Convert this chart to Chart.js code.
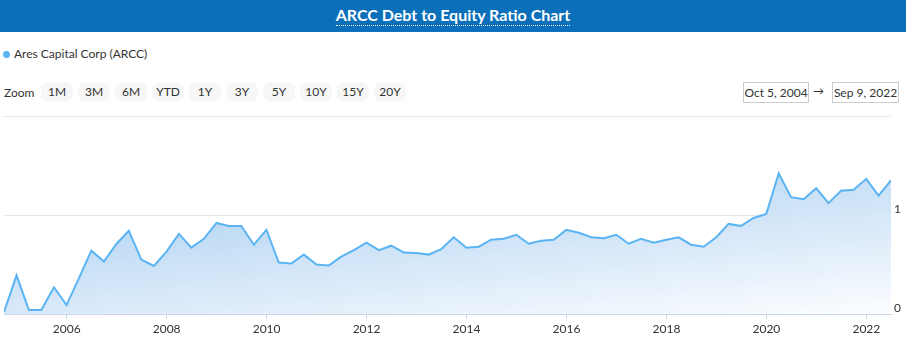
<!DOCTYPE html>
<html>
<head>
<meta charset="utf-8">
<script src="https://cdn.jsdelivr.net/npm/chart.js@4.4.1/dist/chart.umd.min.js"></script>
<style>
  html, body { margin: 0; padding: 0; background: #fff; width: 906px; height: 349px; overflow: hidden; font-family: Lato, "Open Sans", sans-serif; color: #333; }
  #header { position: absolute; left: 0; top: 0; width: 906px; height: 32px; background: #0b6fba; }
  #title { position: absolute; left: 0; width: 906px; top: 5px; text-align: center; color: #fff; font-weight: bold; font-size: 16px; }
  #title span { border-bottom: 1px dotted #fff; padding-bottom: 1px; }
  #legend { position: absolute; left: 3px; top: 46px; font-size: 12px; color: #333; }
  #legend .dot { display: inline-block; width: 7px; height: 7px; border-radius: 50%; background: #5ab4f3; margin-right: 4px; vertical-align: 0px; }
  .zoomlbl { position: absolute; left: 4px; top: 85px; font-size: 12px; color: #333; }
  .btn { position: absolute; top: 82px; width: 32px; height: 20px; line-height: 20px; background: #f7f7f7; border-radius: 8px; text-align: center; font-size: 12px; color: #333; }
  .datebox { position: absolute; top: 82px; height: 19px; border: 1px solid #ccc; font-size: 12px; line-height: 19px; color: #333; text-align: center; }
  #arrow { position: absolute; left: 813px; top: 84px; font-size: 11px; color: #333; }
  #wrap { position: absolute; left: 0; top: 110px; width: 906px; height: 239px; }
</style>
</head>
<body>
<div id="header"><div id="title"><span>ARCC Debt to Equity Ratio Chart</span></div></div>
<div id="legend"><span class="dot"></span>Ares Capital Corp (ARCC)</div>
<div class="zoomlbl">Zoom</div>
<div id="buttons"></div>
<div class="datebox" style="left:743px;width:64px;">Oct 5, 2004</div>
<div id="arrow">&#8594;</div>
<div class="datebox" style="left:832px;width:65px;">Sep 9, 2022</div>
<div id="wrap"><canvas id="c" width="906" height="239"></canvas></div>
<script>
// ---- data ----
const zoomButtons = ["1M", "3M", "6M", "YTD", "1Y", "3Y", "5Y", "10Y", "15Y", "20Y"];
const seriesName = "Ares Capital Corp (ARCC)";
const quarterDates = [
  "2004-09-30","2004-12-31",
  "2005-03-31","2005-06-30","2005-09-30","2005-12-31",
  "2006-03-31","2006-06-30","2006-09-30","2006-12-31",
  "2007-03-31","2007-06-30","2007-09-30","2007-12-31",
  "2008-03-31","2008-06-30","2008-09-30","2008-12-31",
  "2009-03-31","2009-06-30","2009-09-30","2009-12-31",
  "2010-03-31","2010-06-30","2010-09-30","2010-12-31",
  "2011-03-31","2011-06-30","2011-09-30","2011-12-31",
  "2012-03-31","2012-06-30","2012-09-30","2012-12-31",
  "2013-03-31","2013-06-30","2013-09-30","2013-12-31",
  "2014-03-31","2014-06-30","2014-09-30","2014-12-31",
  "2015-03-31","2015-06-30","2015-09-30","2015-12-31",
  "2016-03-31","2016-06-30","2016-09-30","2016-12-31",
  "2017-03-31","2017-06-30","2017-09-30","2017-12-31",
  "2018-03-31","2018-06-30","2018-09-30","2018-12-31",
  "2019-03-31","2019-06-30","2019-09-30","2019-12-31",
  "2020-03-31","2020-06-30","2020-09-30","2020-12-31",
  "2021-03-31","2021-06-30","2021-09-30","2021-12-31",
  "2022-03-31","2022-06-30"
];
const debtToEquity = [
  0.02, 0.39,
  0.04, 0.04, 0.27, 0.09,
  0.36, 0.64, 0.53, 0.71,
  0.84, 0.55, 0.485, 0.63,
  0.81, 0.67, 0.76, 0.92,
  0.89, 0.89, 0.70, 0.85,
  0.52, 0.51, 0.60, 0.50,
  0.49, 0.58, 0.645, 0.72,
  0.645, 0.69, 0.62, 0.615,
  0.60, 0.655, 0.775, 0.67,
  0.68, 0.75, 0.76, 0.80,
  0.71, 0.74, 0.75, 0.85,
  0.82, 0.775, 0.765, 0.80,
  0.71, 0.76, 0.72, 0.75,
  0.775, 0.70, 0.68, 0.775,
  0.91, 0.89, 0.97, 1.01,
  1.42, 1.18, 1.16, 1.27,
  1.12, 1.245, 1.255, 1.365,
  1.195, 1.35
];
const xTickYears = [2006, 2008, 2010, 2012, 2014, 2016, 2018, 2020, 2022];
const yTickLabels = ["0", "1"];

// ---- build ----
const btnWrap = document.getElementById("buttons");
zoomButtons.forEach((b, i) => {
  const d = document.createElement("div");
  d.className = "btn";
  d.style.left = (41 + 37 * i) + "px";
  d.textContent = b;
  btnWrap.appendChild(d);
});

function toYear(s) {
  const d = new Date(s + "T00:00:00Z");
  const y = d.getUTCFullYear();
  const start = Date.UTC(y, 0, 1), end = Date.UTC(y + 1, 0, 1);
  return y + (d.getTime() - start) / (end - start);
}
const points = quarterDates.map((s, i) => ({ x: toYear(s), y: debtToEquity[i] }));

const fillGradient = (ctx) => {
  const ch = ctx.chart;
  const a = ch.chartArea;
  if (!a) return "rgba(124,181,236,0.4)";
  const w = a.right - a.left, h = a.bottom - a.top;
  const gx = 1, gy = 9.67;
  const s = (w * gx + h * gy) / (gx * gx + gy * gy);
  const g = ch.ctx.createLinearGradient(a.left, a.top, a.left + s * gx, a.top + s * gy);
  g.addColorStop(0, "rgb(140,190,236)");
  g.addColorStop(1, "rgb(252,253,255)");
  return g;
};

new Chart(document.getElementById("c"), {
  type: "line",
  data: {
    datasets: [{
      label: seriesName,
      data: points,
      borderColor: "#5ab4f3",
      borderWidth: 2,
      pointRadius: 0,
      tension: 0,
      fill: "origin",
      backgroundColor: fillGradient
    }]
  },
  options: {
    responsive: false,
    animation: false,
    events: [],
    layout: { padding: { left: 4, right: 0, top: 6, bottom: 0 } },
    plugins: { legend: { display: false }, tooltip: { enabled: false } },
    scales: {
      x: {
        type: "linear",
        min: points[0].x,
        max: points[points.length - 1].x,
        afterBuildTicks: (s) => { s.ticks = xTickYears.map(v => ({ value: v })); },
        afterFit: (s) => { s.height = 35; s.paddingLeft = 0; s.paddingRight = 0; },
        grid: { drawOnChartArea: false, drawTicks: true, tickLength: 5, color: "#ccd6eb" },
        border: { color: "#ccd6eb", width: 1 },
        ticks: {
          padding: 3,
          color: "#333",
          font: { family: "Lato", size: 12 },
          maxRotation: 0,
          autoSkip: false,
          callback: (v) => String(v)
        }
      },
      y: {
        position: "right",
        min: 0,
        max: 2,
        afterBuildTicks: (s) => { s.ticks = [0, 1, 2].map(v => ({ value: v })); },
        afterFit: (s) => { s.width = 15; s.paddingTop = 0; s.paddingBottom = 0; },
        grid: { color: "#e6e6e6", drawTicks: false, lineWidth: 1 },
        border: { display: false },
        ticks: {
          padding: 3,
          labelOffset: -6,
          color: "#333",
          font: { family: "Lato", size: 12 },
          callback: (v) => (yTickLabels[v] !== undefined ? yTickLabels[v] : "")
        }
      }
    }
  }
});
</script>
</body>
</html>
